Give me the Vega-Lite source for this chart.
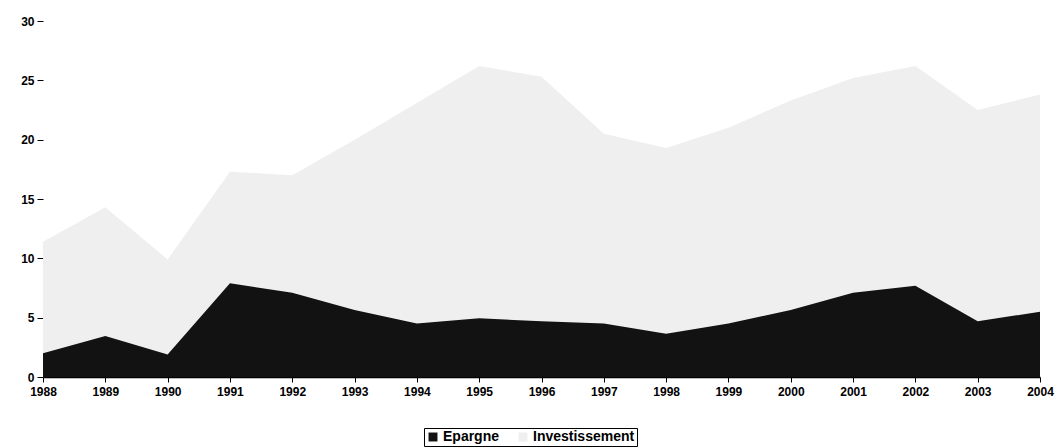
{
  "$schema": "https://vega.github.io/schema/vega-lite/v6.json",
  "autosize": {"type": "none"},
  "width": 997,
  "height": 356,
  "padding": {"left": 43, "top": 21, "right": 19, "bottom": 71},
  "background": "white",
  "config": {
    "view": {"stroke": null},
    "font": "Liberation Sans",
    "axis": {"labelColor": "#000", "tickColor": "#000", "domainColor": "#000", "labelFontSize": 12, "labelFontWeight": "bold", "grid": false}
  },
  "data": {
    "values": [
      {"year": "1988", "serie": "Investissement", "valeur": 11.4},
      {"year": "1989", "serie": "Investissement", "valeur": 14.3},
      {"year": "1990", "serie": "Investissement", "valeur": 9.9},
      {"year": "1991", "serie": "Investissement", "valeur": 17.3},
      {"year": "1992", "serie": "Investissement", "valeur": 17.0},
      {"year": "1993", "serie": "Investissement", "valeur": 20.0},
      {"year": "1994", "serie": "Investissement", "valeur": 23.1},
      {"year": "1995", "serie": "Investissement", "valeur": 26.2},
      {"year": "1996", "serie": "Investissement", "valeur": 25.3},
      {"year": "1997", "serie": "Investissement", "valeur": 20.5},
      {"year": "1998", "serie": "Investissement", "valeur": 19.3},
      {"year": "1999", "serie": "Investissement", "valeur": 21.0},
      {"year": "2000", "serie": "Investissement", "valeur": 23.3},
      {"year": "2001", "serie": "Investissement", "valeur": 25.2},
      {"year": "2002", "serie": "Investissement", "valeur": 26.2},
      {"year": "2003", "serie": "Investissement", "valeur": 22.5},
      {"year": "2004", "serie": "Investissement", "valeur": 23.8},
      {"year": "1988", "serie": "Epargne", "valeur": 2.0},
      {"year": "1989", "serie": "Epargne", "valeur": 3.45},
      {"year": "1990", "serie": "Epargne", "valeur": 1.9},
      {"year": "1991", "serie": "Epargne", "valeur": 7.9},
      {"year": "1992", "serie": "Epargne", "valeur": 7.1},
      {"year": "1993", "serie": "Epargne", "valeur": 5.65},
      {"year": "1994", "serie": "Epargne", "valeur": 4.5},
      {"year": "1995", "serie": "Epargne", "valeur": 4.95},
      {"year": "1996", "serie": "Epargne", "valeur": 4.7},
      {"year": "1997", "serie": "Epargne", "valeur": 4.5},
      {"year": "1998", "serie": "Epargne", "valeur": 3.65},
      {"year": "1999", "serie": "Epargne", "valeur": 4.5},
      {"year": "2000", "serie": "Epargne", "valeur": 5.65},
      {"year": "2001", "serie": "Epargne", "valeur": 7.1},
      {"year": "2002", "serie": "Epargne", "valeur": 7.7},
      {"year": "2003", "serie": "Epargne", "valeur": 4.7},
      {"year": "2004", "serie": "Epargne", "valeur": 5.5}
    ]
  },
  "encoding": {
    "x": {
      "field": "year", "type": "ordinal",
      "scale": {"type": "point", "padding": 0},
      "axis": {"title": null, "labelAngle": 0, "tickSize": 5, "labelPadding": 4, "domainWidth": 1.5}
    },
    "y": {
      "field": "valeur", "type": "quantitative",
      "scale": {"domain": [0, 30], "nice": false},
      "stack": null,
      "axis": {"title": null, "values": [0, 5, 10, 15, 20, 25, 30], "domain": false, "tickSize": 6, "labelPadding": 3}
    },
    "color": {
      "field": "serie", "type": "nominal",
      "scale": {"domain": ["Epargne", "Investissement"], "range": ["#121212", "#efefef"]},
      "legend": {
        "title": null, "orient": "none", "direction": "horizontal",
        "legendX": 381, "legendY": 407,
        "strokeColor": "#000", "padding": 2,
        "symbolType": "square", "symbolSize": 80, "symbolStrokeWidth": 0,
        "labelFontSize": 14, "labelFontWeight": "bold", "labelColor": "#000", "columnPadding": 16, "labelOffset": 3
      }
    }
  },
  "layer": [
    {"transform": [{"filter": "datum.serie === 'Investissement'"}], "mark": {"type": "area", "opacity": 1}},
    {"transform": [{"filter": "datum.serie === 'Epargne'"}], "mark": {"type": "area", "opacity": 1}}
  ]
}
